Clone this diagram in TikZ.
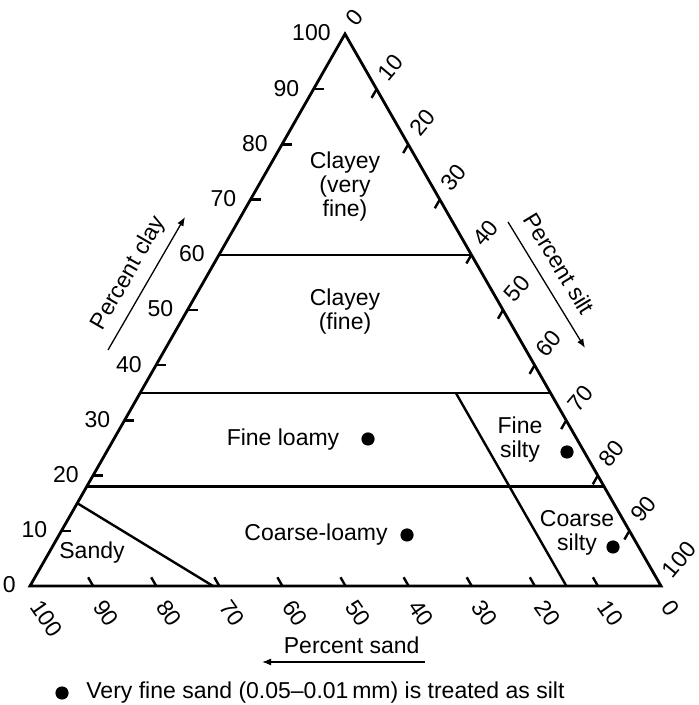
\documentclass[tikz,border=0pt]{standalone}
\usepackage{fontspec}
\setmainfont{Liberation Sans}
\usetikzlibrary{arrows.meta}
\begin{document}
\begin{tikzpicture}[x=0.5pt,y=0.5pt,
        every node/.style={font=\fontsize{11.5}{12}\selectfont,inner sep=2pt},
        edge/.style={line width=1.4pt},
        bound/.style={line width=1.2pt},
        tickmark/.style={line width=1.2pt},
        axisarrow/.style={line width=0.65pt,-{Latex[length=4.5pt,width=3.5pt]}},
        region/.style={align=center},
        siltdot/.style={fill=black}]
        \useasboundingbox (0,0) rectangle (698,705);
        \coordinate (A) at (30,119);
        \coordinate (B) at (661,119);
        \coordinate (C) at (345,671);
        \foreach \v in {0,10,...,100}{
            \pgfmathsetmacro{\f}{\v/100}
            \pgfmathsetmacro{\g}{1-\v/100}
            \coordinate (cl\v) at (barycentric cs:A=\g,C=\f);
            \coordinate (si\v) at (barycentric cs:B=\f,C=\g);
            \coordinate (sa\v) at (barycentric cs:A=\f,B=\g);
            \node[anchor=east] (clay\v) at ([shift={(-10,1)}]cl\v) {\v};
            \node[anchor=west,rotate=50,inner sep=0.5pt] (silt\v) at ([shift={(5,11)}]si\v) {\v};
            \node[anchor=west,rotate=-55] (sand\v) at ([shift={(3,-13)}]sa\v) {\v};
        }
        \foreach \v in {10,20,...,90}{
            \draw[tickmark] (cl\v) -- ++(10,0);
            \draw[tickmark] (si\v) -- ++(-5,-8.7);
            \draw[tickmark] (sa\v) -- ++(-5,8.7);
        }
        \draw[edge] (A) -- (B) -- (C) -- cycle;
        \coordinate (c60l) at (barycentric cs:A=0.40,C=0.60);
        \coordinate (c60r) at (barycentric cs:B=0.40,C=0.60);
        \coordinate (c35l) at (barycentric cs:A=0.65,C=0.35);
        \coordinate (c35r) at (barycentric cs:B=0.65,C=0.35);
        \coordinate (c18l) at (barycentric cs:A=0.82,C=0.18);
        \coordinate (c18r) at (barycentric cs:B=0.82,C=0.18);
        \coordinate (s15t) at (barycentric cs:A=0.15,B=0.50,C=0.35);
        \coordinate (s15b) at (barycentric cs:A=0.15,B=0.85);
        \coordinate (sdt) at (barycentric cs:A=0.85,C=0.15);
        \coordinate (sdb) at (barycentric cs:A=0.71,B=0.29);
        \draw[bound] (c60l) -- (c60r);
        \draw[bound] (c35l) -- (c35r);
        \draw[bound] (c18l) -- (c18r);
        \draw[bound] (s15t) -- (s15b);
        \draw[bound] (sdt) -- (sdb);
        \node[region] (vfine) at (345,518) {Clayey\\(very\\fine)};
        \node[region] (fine) at (345,393) {Clayey\\(fine)};
        \node (floamy) at (283,265) {Fine loamy};
        \node[region] (fsilty) at (520,265) {Fine\\silty};
        \node (cloamy) at (316,170) {Coarse-loamy};
        \node[region] (csilty) at (577,172) {Coarse\\silty};
        \node (sandy) at (92,152) {Sandy};
        \fill[siltdot] (368,266) circle (3.3pt);
        \fill[siltdot] (567,253) circle (3.3pt);
        \fill[siltdot] (407,170) circle (3.3pt);
        \fill[siltdot] (613,158) circle (3.3pt);
        \coordinate (clayS) at (108,355);
        \coordinate (clayE) at (185,488);
        \coordinate (siltS) at (508,483);
        \coordinate (siltE) at (585,357);
        \coordinate (sandS) at (425,43);
        \coordinate (sandE) at (262,43);
        \draw[axisarrow] (clayS) -- node[midway,above=2.5pt,sloped] (clayT) {Percent clay} (clayE);
        \draw[axisarrow] (siltS) -- node[pos=0.42,above=4.5pt,sloped] (siltT) {Percent silt} (siltE);
        \draw[axisarrow] (sandS) -- node[pos=0.45,above=2pt] (sandT) {Percent sand} (sandE);
        \fill[siltdot] (62,12) circle (3.3pt);
        \node[anchor=west] (note) at (82,12) {Very fine sand (0.05--0.01\,mm) is treated as silt};
\end{tikzpicture}
\end{document}
